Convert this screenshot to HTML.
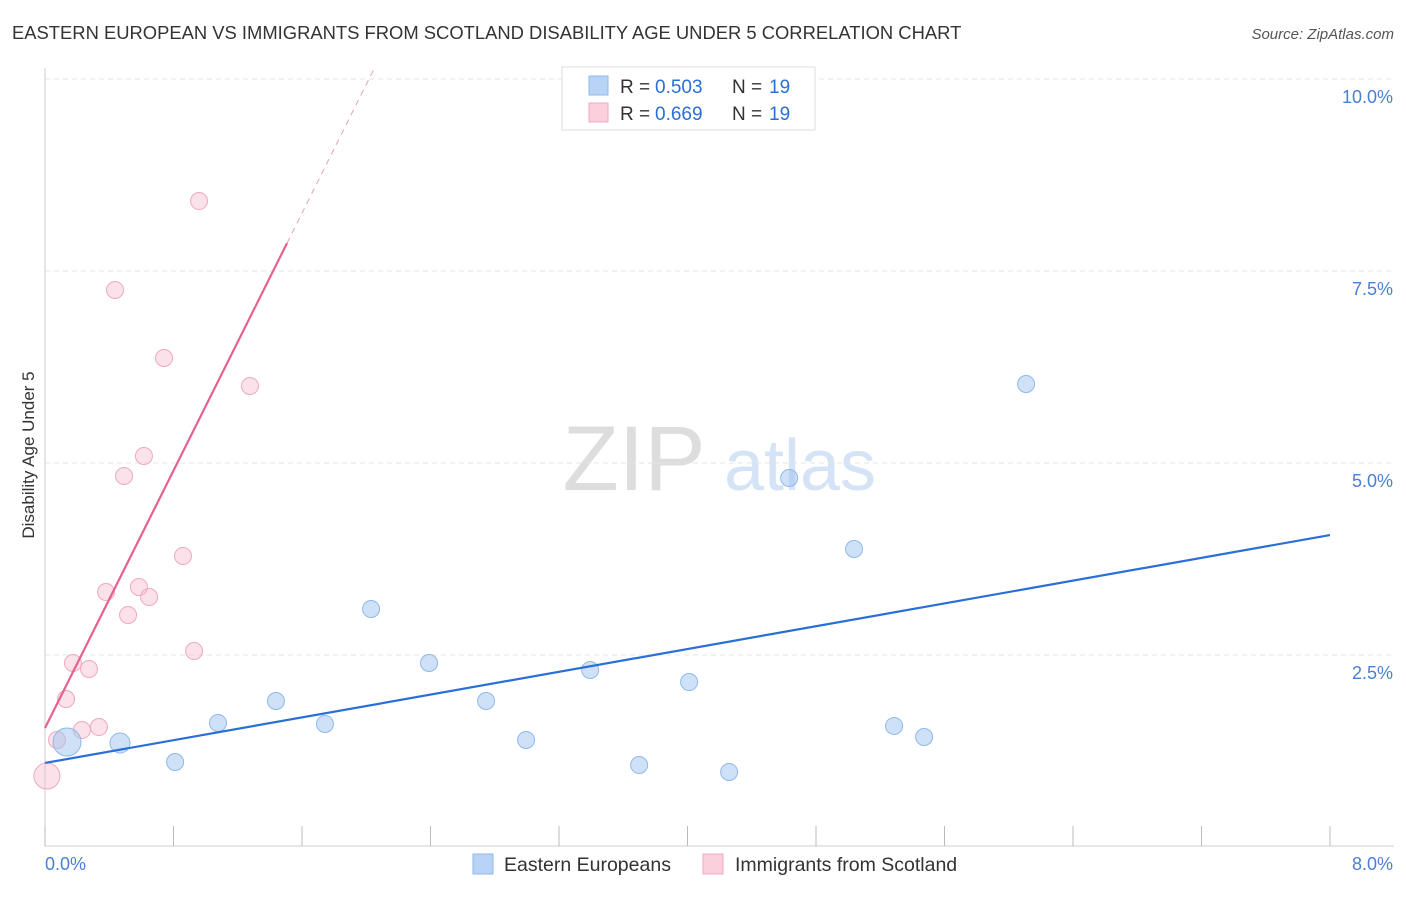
<!DOCTYPE html>
<html><head><meta charset="utf-8"><style>
body{margin:0;background:#fff;font-family:"Liberation Sans",sans-serif}
svg text{font-family:"Liberation Sans",sans-serif}
</style></head><body>
<svg id="c" width="1406" height="892" xmlns="http://www.w3.org/2000/svg">
<text x="12" y="39" font-size="18.4" fill="#333">EASTERN EUROPEAN VS IMMIGRANTS FROM SCOTLAND DISABILITY AGE UNDER 5 CORRELATION CHART</text>
<text x="1394" y="39" font-size="15" fill="#555" font-style="italic" text-anchor="end">Source: ZipAtlas.com</text>
<text x="634" y="490" font-size="92" fill="#ddd" font-family="Liberation Serif" text-anchor="middle">ZIP</text>
<text x="800" y="490" font-size="72" fill="#d4e3f6" text-anchor="middle">atlas</text>
<text transform="translate(34,455) rotate(-90)" font-size="17" fill="#333" text-anchor="middle">Disability Age Under 5</text>
<g id="grid"></g><g id="marks"></g>
<g>
<rect x="562" y="67" width="253" height="63" fill="#fff" stroke="#ddd"/>
<rect x="589" y="76" width="19" height="19" fill="#b8d3f5" stroke="#8fb8ea"/>
<text x="620" y="93" font-size="19" fill="#333">R =</text><text x="655" y="93" font-size="19" fill="#2a6fd6">0.503</text>
<text x="732" y="93" font-size="19" fill="#333">N =</text><text x="769" y="93" font-size="19" fill="#2a6fd6">19</text>
<rect x="589" y="103" width="19" height="19" fill="#fbd0dc" stroke="#f0a8bf"/>
<text x="620" y="120" font-size="19" fill="#333">R =</text><text x="655" y="120" font-size="19" fill="#2a6fd6">0.669</text>
<text x="732" y="120" font-size="19" fill="#333">N =</text><text x="769" y="120" font-size="19" fill="#2a6fd6">19</text>
</g>
<g>
<rect x="473" y="854" width="20" height="20" fill="#b8d3f5" stroke="#8fb8ea"/>
<text x="504" y="871" font-size="19.5" fill="#333">Eastern Europeans</text>
<rect x="703" y="854" width="20" height="20" fill="#fbd0dc" stroke="#f0a8bf"/>
<text x="735" y="871" font-size="19.5" fill="#333">Immigrants from Scotland</text>
</g>
</svg>
<script>
const blueX=[0.137,0.467,0.810,1.077,1.438,1.743,2.030,2.391,2.746,2.995,3.394,3.699,4.010,4.259,4.633,5.037,5.286,5.473,6.108];
const blueY=[1.354,1.341,1.094,1.602,1.888,1.589,3.086,2.383,1.888,1.380,2.292,1.055,2.135,0.964,4.792,3.867,1.563,1.419,6.016];
const pinkX=[0.012,0.075,0.131,0.174,0.230,0.274,0.336,0.380,0.436,0.492,0.517,0.585,0.616,0.648,0.741,0.859,0.928,0.959,1.276];
const pinkY=[0.911,1.380,1.914,2.383,1.510,2.305,1.549,3.307,7.240,4.818,3.008,3.372,5.078,3.242,6.354,3.776,2.539,8.398,5.990];
const blueSizes=[14,10,0,0,0,0,0,0,0,0,0,0,0,0,0,0,0,0,0];
const pinkSizes=[13,0,0,0,0,0,0,0,0,0,0,0,0,0,0,0,0,0,0];
const yTicks=[2.5,5.0,7.5,10.0];
const yTickLabels=["2.5%","5.0%","7.5%","10.0%"];
const xTicks=[0,0.8,1.6,2.4,3.2,4.0,4.8,5.6,6.4,7.2,8.0];
const blueTrend=[1.081,4.049];
const pinkTrend=[1.536,4.19];
const X=v=>45+v/8*1285, Y=v=>846-v/2.5*192;
const NS="http://www.w3.org/2000/svg";
function mk(p,t,a){const e=document.createElementNS(NS,t);for(const k in a)e.setAttribute(k,a[k]);p.appendChild(e);return e;}
const g=document.getElementById('grid'), m=document.getElementById('marks');
yTicks.forEach((v,i)=>{
 const l=mk(g,'line',{x1:45,x2:1394,y1:Y(v)+1,y2:Y(v)+1,stroke:'#e4e4e4','stroke-dasharray':'5,4'});
 
 
 const t=mk(g,'text',{x:1393,y:Y(v)+25,'font-size':18,fill:'#4a7fd4','text-anchor':'end'});
 t.textContent=yTickLabels[i];
 
 
});
const ax=mk(g,'line',{x1:45,x2:45,y1:68,y2:846,stroke:'#ccc'});


const bx=mk(g,'line',{x1:45,x2:1394,y1:846,y2:846,stroke:'#ccc'});


xTicks.forEach(v=>{const l=mk(g,'line',{x1:X(v),x2:X(v),y1:826,y2:846,stroke:'#bbb'});
 
 });
[['0.0%',45,'start'],['8.0%',1393,'end']].forEach(a=>{const t=mk(g,'text',{x:a[1],y:870,'font-size':18,fill:'#4a7fd4','text-anchor':a[2]});t.textContent=a[0];
 
 });
function pts(xs,ys,sz,fill,stroke,name){xs.forEach((x,i)=>{const c=mk(m,'circle',{cx:X(x),cy:Y(ys[i]),r:sz[i]||8.5,fill:fill,stroke:stroke,'stroke-width':1});
 
 });}
pts(pinkX,pinkY,pinkSizes,'rgba(246,180,200,0.4)','#f0a8bf','scotland-point');
pts(blueX,blueY,blueSizes,'rgba(160,196,240,0.5)','#8fb8ea','eastern-european-point');
const bl=mk(m,'line',{x1:X(0),y1:Y(blueTrend[0]),x2:X(8),y2:Y(blueTrend[1]),stroke:'#2a6fd6','stroke-width':2.2});


const xe=1.507, xd=(10.1-pinkTrend[0])/pinkTrend[1];
const pl=mk(m,'line',{x1:X(0),y1:Y(pinkTrend[0]),x2:X(xe),y2:Y(pinkTrend[0]+pinkTrend[1]*xe),stroke:'#e8608e','stroke-width':2.2});


const pd=mk(m,'line',{x1:X(xe),y1:Y(pinkTrend[0]+pinkTrend[1]*xe),x2:X(xd),y2:Y(pinkTrend[0]+pinkTrend[1]*xd),stroke:'#e8a0b8','stroke-width':1,'stroke-dasharray':'6,5'});


</script>
</body></html>
